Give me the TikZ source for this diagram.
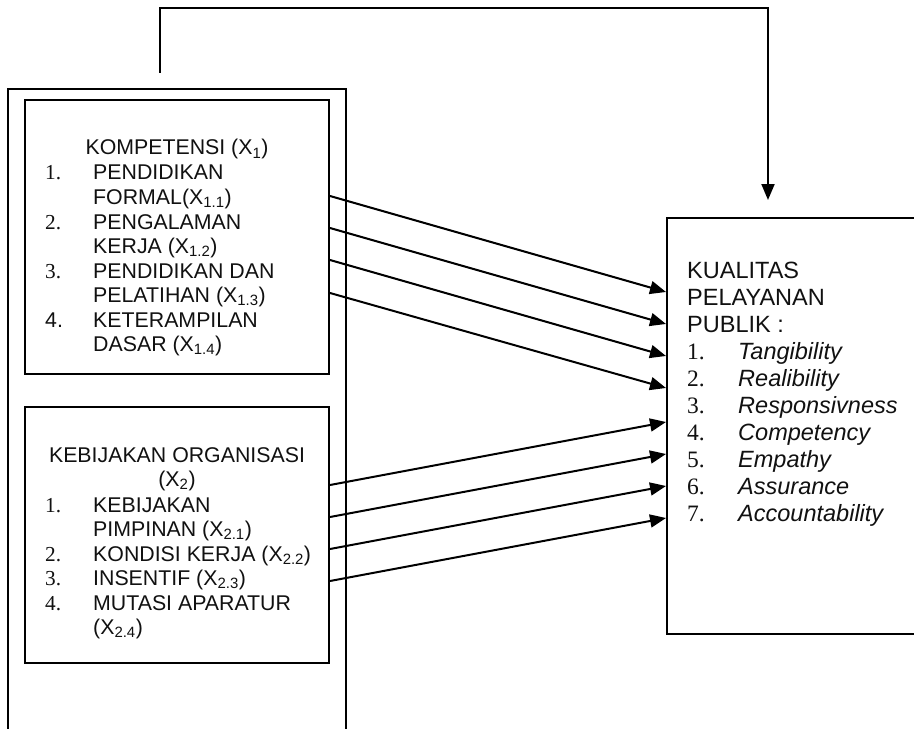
\documentclass[tikz,border=0pt]{standalone}
\usepackage{fontspec}
\setmainfont{Liberation Sans}
\newfontfamily\numfont{Liberation Serif}
\usepackage{xcolor}
\usetikzlibrary{arrows.meta, positioning}
\definecolor{LineBlack}{HTML}{000000}
\definecolor{TextBlack}{HTML}{111111}
\newcommand{\kecil}{\fontsize{21.4}{24.6}\selectfont}
\newcommand{\besar}{\fontsize{23.6}{27.2}\selectfont}
\newcommand{\nomor}[1]{{\numfont #1}}
\tikzset{
  kotak/.style={draw=LineBlack,line width=2bp,minimum width=#1,inner sep=0pt},
  teks/.style={inner sep=0pt,text=TextBlack},
  panah/.style={draw=LineBlack,line width=2bp,-{Triangle[length=16bp,width=13bp]}}
}
\begin{document}
\begin{tikzpicture}[x=1bp,y=-1bp]
\clip (0,0) rectangle (914,729);
\fill[white] (0,0) rectangle (914,729);
% boxes
\node[kotak=338bp,minimum height=671bp] (luar) at (177,424.5) {};
\node[kotak=304bp,minimum height=274bp] (komp) at (177,237) {};
\node[kotak=304bp,minimum height=256bp] (kebij) at (177,535) {};
\node[kotak=253bp,minimum height=416bp] (kual) at (793.5,426) {};
% texts
\node[teks,anchor=base,font=\kecil] (kompjudul) at (177,155) {KOMPETENSI (X\textsubscript{1})};
\node[teks,anchor=base west,font=\kecil] (kompisi) at (45,180) {\begin{tabular}[t]{@{}p{48bp}@{}l@{}}
\nomor{1.} & PENDIDIKAN\\
 & FORMAL(X\textsubscript{1.1})\\
\nomor{2.} & PENGALAMAN\\
 & KERJA (X\textsubscript{1.2})\\
\nomor{3.} & PENDIDIKAN DAN\\
 & PELATIHAN (X\textsubscript{1.3})\\
4. & KETERAMPILAN\\
 & DASAR (X\textsubscript{1.4})
\end{tabular}};
\node[teks,anchor=base,font=\kecil] (kebijjudul) at (177,462) {\begin{tabular}[t]{@{}c@{}}
KEBIJAKAN ORGANISASI\\
(X\textsubscript{2})
\end{tabular}};
\node[teks,anchor=base west,font=\kecil] (kebijisi) at (45,512) {\begin{tabular}[t]{@{}p{48bp}@{}l@{}}
\nomor{1.} & KEBIJAKAN\\
 & PIMPINAN (X\textsubscript{2.1})\\
\nomor{2.} & KONDISI KERJA (X\textsubscript{2.2})\\
\nomor{3.} & INSENTIF (X\textsubscript{2.3})\\
\nomor{4.} & MUTASI APARATUR\\
 & (X\textsubscript{2.4})
\end{tabular}};
\node[teks,anchor=base west,font=\besar] (kualisi) at (687,278) {\begin{tabular}[t]{@{}p{51bp}@{}l@{}}
\multicolumn{2}{@{}l@{}}{KUALITAS}\\
\multicolumn{2}{@{}l@{}}{PELAYANAN}\\
\multicolumn{2}{@{}l@{}}{PUBLIK :}\\
\nomor{1.} & \textit{Tangibility}\\
\nomor{2.} & \textit{Realibility}\\
\nomor{3.} & \textit{Responsivness}\\
\nomor{4.} & \textit{Competency}\\
\nomor{5.} & \textit{Empathy}\\
\nomor{6.} & \textit{Assurance}\\
\nomor{7.} & \textit{Accountability}
\end{tabular}};
% connectors
\draw[panah] ([yshift=41bp]komp.east) -- ([yshift=134bp]kual.west);
\draw[panah] ([yshift=9bp]komp.east) -- ([yshift=102bp]kual.west);
\draw[panah] ([yshift=-23bp]komp.east) -- ([yshift=70bp]kual.west);
\draw[panah] ([yshift=-56bp]komp.east) -- ([yshift=38bp]kual.west);
\draw[panah] ([yshift=50bp]kebij.east) -- ([yshift=4bp]kual.west);
\draw[panah] ([yshift=18bp]kebij.east) -- ([yshift=-28bp]kual.west);
\draw[panah] ([yshift=-14bp]kebij.east) -- ([yshift=-60bp]kual.west);
\draw[panah] ([yshift=-46bp]kebij.east) -- ([yshift=-92bp]kual.west);
% feedback line
\coordinate (balik0) at (160,73);
\coordinate (balik1) at (768,8);
\coordinate (balik2) at (768,200);
\draw[panah] (balik0) |- (balik1) -- (balik2);
\end{tikzpicture}
\end{document}
